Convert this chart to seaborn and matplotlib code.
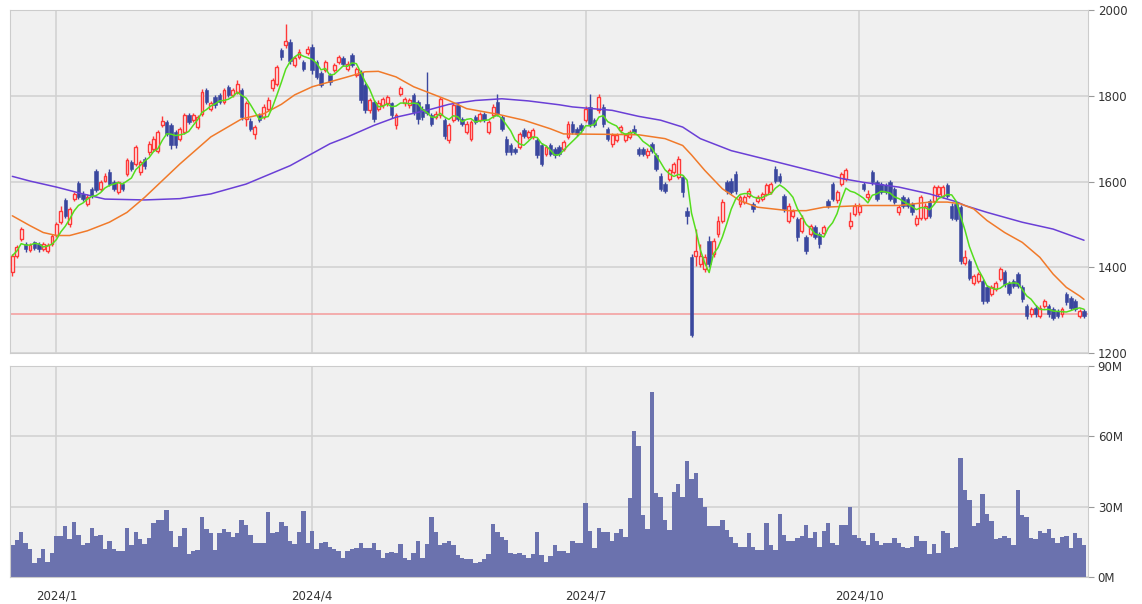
import numpy as np
import pandas as pd
import seaborn as sns
import matplotlib.pyplot as plt

sns.set_style('white')
plt.rcParams['font.family'] = ['DejaVu Sans']

# 일봉 데이터 (2023/12/18 ~ 2024/12/13, 거래일 순서)
open_ = [1388, 1427, 1467, 1455, 1440, 1458, 1455, 1442, 1438, 1454, 1476, 1505, 1558, 1500, 1560, 1596, 1572, 1548, 1583, 1624,
         1583, 1602, 1622, 1598, 1575, 1594, 1618, 1645, 1641, 1622, 1653, 1668, 1676, 1672, 1731, 1739, 1731, 1715, 1700, 1715,
         1754, 1743, 1727, 1758, 1813, 1770, 1797, 1801, 1786, 1821, 1801, 1809, 1813, 1746, 1742, 1711, 1754, 1750, 1770, 1817,
         1828, 1906, 1918, 1926, 1871, 1891, 1879, 1899, 1914, 1879, 1852, 1860, 1848, 1860, 1879, 1887, 1863, 1896, 1848, 1856,
         1825, 1766, 1785, 1770, 1778, 1782, 1782, 1731, 1805, 1782, 1778, 1801, 1785, 1770, 1780, 1754, 1750, 1754, 1743, 1696,
         1743, 1778, 1746, 1715, 1700, 1750, 1743, 1758, 1715, 1754, 1785, 1750, 1700, 1684, 1676, 1680, 1719, 1703, 1703, 1696,
         1684, 1665, 1684, 1676, 1680, 1676, 1704, 1735, 1723, 1731, 1743, 1774, 1743, 1766, 1774, 1723, 1688, 1696, 1719, 1696,
         1704, 1723, 1676, 1676, 1661, 1688, 1661, 1614, 1594, 1606, 1622, 1610, 1610, 1532, 1423, 1427, 1407, 1396, 1462, 1431,
         1477, 1509, 1598, 1602, 1618, 1548, 1552, 1567, 1548, 1555, 1559, 1571, 1575, 1630, 1614, 1567, 1509, 1520, 1513, 1485,
         1470, 1477, 1493, 1477, 1481, 1555, 1594, 1556, 1595, 1606, 1497, 1524, 1528, 1595, 1563, 1622, 1598, 1595, 1591, 1598,
         1583, 1528, 1563, 1559, 1548, 1501, 1516, 1516, 1555, 1555, 1571, 1567, 1591, 1544, 1548, 1540, 1411, 1415, 1364, 1368,
         1368, 1353, 1337, 1349, 1372, 1388, 1364, 1368, 1384, 1353, 1310, 1290, 1306, 1286, 1310, 1310, 1302, 1298, 1290, 1337,
         1329, 1321, 1286, 1298]
high = [1432, 1452, 1494, 1460, 1456, 1462, 1460, 1460, 1456, 1478, 1506, 1544, 1562, 1540, 1575, 1602, 1578, 1570, 1588, 1628,
        1604, 1620, 1628, 1603, 1602, 1598, 1655, 1650, 1686, 1650, 1658, 1694, 1706, 1720, 1752, 1744, 1736, 1720, 1728, 1760,
        1760, 1760, 1755, 1815, 1818, 1788, 1802, 1806, 1818, 1826, 1818, 1836, 1818, 1788, 1748, 1732, 1760, 1780, 1796, 1842,
        1872, 1912, 1967, 1932, 1892, 1908, 1884, 1915, 1920, 1884, 1857, 1884, 1853, 1876, 1896, 1892, 1880, 1900, 1868, 1860,
        1830, 1794, 1790, 1790, 1798, 1802, 1786, 1760, 1822, 1798, 1794, 1806, 1790, 1775, 1855, 1760, 1764, 1798, 1748, 1736,
        1783, 1783, 1750, 1740, 1744, 1755, 1763, 1763, 1744, 1780, 1805, 1755, 1705, 1690, 1681, 1716, 1724, 1720, 1724, 1701,
        1689, 1685, 1689, 1681, 1685, 1697, 1740, 1740, 1728, 1736, 1776, 1805, 1748, 1803, 1780, 1728, 1713, 1713, 1732, 1713,
        1720, 1732, 1681, 1681, 1677, 1693, 1666, 1619, 1599, 1631, 1646, 1660, 1615, 1540, 1430, 1490, 1455, 1430, 1473, 1468,
        1520, 1560, 1604, 1608, 1624, 1568, 1568, 1584, 1553, 1568, 1576, 1596, 1600, 1636, 1620, 1572, 1550, 1537, 1518, 1521,
        1475, 1502, 1498, 1482, 1498, 1560, 1600, 1580, 1623, 1631, 1530, 1549, 1549, 1600, 1580, 1627, 1603, 1600, 1596, 1603,
        1588, 1545, 1568, 1564, 1553, 1521, 1568, 1549, 1560, 1592, 1592, 1592, 1596, 1549, 1553, 1545, 1440, 1420, 1385, 1389,
        1373, 1358, 1358, 1369, 1401, 1393, 1369, 1373, 1389, 1358, 1315, 1307, 1311, 1311, 1326, 1315, 1307, 1303, 1307, 1342,
        1334, 1326, 1303, 1303]
low = [1380, 1422, 1462, 1436, 1435, 1440, 1436, 1438, 1433, 1450, 1470, 1500, 1515, 1495, 1555, 1560, 1555, 1542, 1562, 1575,
       1578, 1598, 1590, 1577, 1570, 1577, 1612, 1625, 1636, 1616, 1630, 1662, 1670, 1666, 1726, 1706, 1675, 1678, 1695, 1710,
       1734, 1738, 1722, 1752, 1780, 1765, 1772, 1780, 1780, 1796, 1796, 1804, 1744, 1730, 1718, 1700, 1738, 1745, 1765, 1812,
       1822, 1884, 1912, 1874, 1866, 1886, 1858, 1894, 1850, 1838, 1820, 1855, 1826, 1855, 1874, 1870, 1858, 1866, 1843, 1784,
       1760, 1760, 1738, 1765, 1772, 1776, 1748, 1722, 1800, 1776, 1772, 1756, 1735, 1744, 1754, 1730, 1745, 1748, 1700, 1690,
       1738, 1740, 1730, 1710, 1695, 1734, 1738, 1738, 1710, 1748, 1752, 1718, 1662, 1662, 1663, 1675, 1702, 1698, 1698, 1655,
       1635, 1660, 1660, 1655, 1660, 1671, 1698, 1710, 1706, 1714, 1738, 1728, 1726, 1760, 1728, 1694, 1680, 1691, 1714, 1691,
       1699, 1710, 1660, 1660, 1655, 1667, 1624, 1577, 1574, 1601, 1617, 1605, 1565, 1500, 1238, 1403, 1400, 1390, 1400, 1425,
       1470, 1503, 1572, 1570, 1572, 1540, 1547, 1562, 1528, 1550, 1554, 1566, 1570, 1597, 1597, 1530, 1504, 1515, 1462, 1480,
       1430, 1472, 1465, 1444, 1476, 1539, 1554, 1551, 1590, 1601, 1490, 1519, 1523, 1578, 1558, 1593, 1554, 1570, 1570, 1554,
       1547, 1523, 1539, 1539, 1523, 1496, 1511, 1511, 1515, 1550, 1566, 1562, 1562, 1510, 1508, 1408, 1406, 1370, 1359, 1363,
       1315, 1316, 1332, 1344, 1367, 1355, 1336, 1352, 1352, 1320, 1280, 1285, 1285, 1281, 1305, 1285, 1277, 1281, 1285, 1313,
       1301, 1297, 1281, 1281]
close = [1427, 1448, 1490, 1442, 1452, 1446, 1442, 1455, 1452, 1474, 1500, 1532, 1520, 1535, 1570, 1564, 1560, 1565, 1567, 1580,
         1598, 1614, 1595, 1582, 1598, 1582, 1649, 1630, 1680, 1645, 1635, 1688, 1700, 1715, 1742, 1711, 1684, 1684, 1723, 1754,
         1739, 1754, 1750, 1809, 1786, 1782, 1778, 1786, 1813, 1801, 1813, 1828, 1750, 1782, 1723, 1727, 1743, 1774, 1790, 1836,
         1867, 1890, 1928, 1880, 1887, 1903, 1863, 1910, 1860, 1844, 1825, 1879, 1832, 1871, 1891, 1875, 1875, 1871, 1863, 1789,
         1766, 1789, 1746, 1782, 1793, 1797, 1754, 1754, 1817, 1793, 1789, 1762, 1745, 1750, 1760, 1735, 1758, 1793, 1707, 1731,
         1778, 1746, 1735, 1735, 1739, 1739, 1758, 1743, 1739, 1774, 1758, 1723, 1668, 1668, 1668, 1711, 1707, 1715, 1719, 1661,
         1641, 1680, 1665, 1661, 1665, 1692, 1735, 1715, 1711, 1719, 1770, 1735, 1731, 1797, 1735, 1700, 1708, 1708, 1727, 1708,
         1715, 1715, 1665, 1665, 1672, 1672, 1630, 1583, 1579, 1626, 1641, 1653, 1575, 1520, 1243, 1438, 1427, 1423, 1407, 1462,
         1509, 1552, 1579, 1575, 1579, 1563, 1563, 1579, 1536, 1563, 1571, 1591, 1594, 1602, 1602, 1536, 1544, 1532, 1470, 1516,
         1438, 1497, 1470, 1454, 1493, 1544, 1559, 1575, 1618, 1626, 1509, 1544, 1544, 1583, 1571, 1598, 1559, 1575, 1575, 1559,
         1552, 1540, 1544, 1544, 1528, 1516, 1563, 1544, 1520, 1587, 1587, 1587, 1567, 1516, 1513, 1415, 1423, 1376, 1380, 1384,
         1321, 1321, 1353, 1364, 1396, 1360, 1341, 1357, 1357, 1325, 1286, 1302, 1290, 1306, 1321, 1290, 1282, 1286, 1302, 1318,
         1306, 1302, 1298, 1286]
# 거래량 (백만 주)
volume = [13.6, 15.9, 19.3, 14.7, 12.1, 5.9, 8.3, 12.1, 6.4, 10.1, 17.3, 17.3, 21.9, 16.1, 23.6, 18.0, 13.6, 14.7, 21.1, 17.6,
          18.0, 12.1, 15.4, 12.1, 10.9, 10.9, 21.1, 13.6, 19.3, 16.1, 14.0, 16.6, 23.0, 24.3, 24.3, 28.7, 19.7, 13.0, 17.3, 21.1,
          9.7, 11.1, 11.6, 25.7, 20.4, 18.6, 11.6, 18.6, 20.4, 19.4, 16.9, 18.6, 24.3, 22.3, 18.0, 14.7, 14.7, 14.7, 27.6, 18.6,
          19.4, 23.6, 21.9, 15.4, 14.0, 19.0, 28.3, 14.7, 19.7, 12.1, 14.7, 15.1, 12.9, 11.9, 10.9, 7.9, 11.1, 11.9, 12.3, 14.7,
          12.3, 12.3, 14.7, 11.6, 7.9, 10.1, 10.7, 10.1, 14.0, 8.3, 7.1, 10.1, 15.4, 8.3, 14.0, 25.7, 19.3, 13.6, 14.4, 15.4,
          13.6, 9.3, 8.3, 7.6, 7.6, 5.9, 6.4, 7.6, 9.7, 22.6, 19.3, 16.9, 15.9, 10.1, 9.7, 10.1, 9.3, 8.3, 9.7, 19.3,
          9.3, 6.4, 9.0, 13.6, 10.9, 10.9, 10.1, 15.4, 14.4, 14.7, 31.6, 19.7, 12.3, 21.1, 19.0, 19.3, 15.4, 18.6, 20.4, 16.9,
          33.6, 62.3, 55.7, 26.4, 20.4, 79.0, 35.9, 34.0, 24.4, 20.0, 36.4, 39.7, 34.0, 49.4, 41.6, 44.3, 33.6, 29.7, 21.9, 21.9,
          21.9, 24.3, 20.0, 16.9, 14.3, 12.9, 12.9, 18.6, 12.9, 11.6, 11.6, 23.0, 13.6, 11.6, 26.9, 18.0, 15.4, 15.4, 16.6, 17.3,
          22.3, 16.6, 19.0, 13.0, 19.7, 23.0, 14.7, 13.6, 22.3, 22.3, 29.7, 18.0, 16.6, 15.4, 13.6, 18.6, 15.4, 13.6, 14.7, 14.7,
          16.6, 14.7, 12.9, 12.3, 12.9, 17.3, 15.4, 15.4, 9.7, 14.0, 10.4, 19.7, 18.6, 12.3, 12.9, 50.7, 37.3, 32.9, 21.9, 23.0,
          35.4, 26.9, 23.7, 16.1, 16.6, 17.3, 16.6, 13.6, 37.3, 26.4, 25.7, 16.6, 16.1, 19.7, 18.6, 20.4, 16.6, 14.3, 16.9, 17.3,
          12.3, 18.6, 16.6, 13.6]

# 25일 / 75일 이동평균
ma25_idx = [0, 4, 7, 10, 13, 17, 22, 26, 30, 34, 38, 45, 52, 57, 61, 64, 68, 76, 80, 83, 87, 91, 95, 99, 103, 110, 116,
            122, 125, 135, 142, 148, 152, 154, 157, 161, 165, 169, 176, 180, 184, 193, 201, 208, 212, 215, 218, 221, 225,
            229, 233, 236, 239, 242, 243]
ma25_val = [1520, 1497, 1481, 1474, 1474, 1485, 1505, 1528, 1563, 1602, 1641, 1704, 1746, 1758, 1780, 1802, 1821, 1844, 1856,
            1857, 1844, 1821, 1805, 1789, 1770, 1757, 1743, 1723, 1711, 1710, 1709, 1700, 1684, 1662, 1626, 1583, 1555, 1540,
            1532, 1532, 1540, 1544, 1544, 1552, 1552, 1548, 1536, 1509, 1481, 1458, 1423, 1384, 1353, 1333, 1325]
ma75_idx = [0, 4, 10, 16, 21, 30, 38, 45, 53, 63, 72, 76, 82, 87, 94, 99, 105, 111, 117, 124, 127, 136, 142, 147, 152, 156,
            163, 172, 184, 188, 193, 201, 208, 214, 216, 221, 229, 236, 243]
ma75_val = [1612, 1601, 1587, 1571, 1559, 1557, 1560, 1571, 1594, 1637, 1688, 1704, 1731, 1750, 1766, 1780, 1789, 1793, 1788,
            1779, 1774, 1766, 1752, 1743, 1727, 1700, 1672, 1649, 1618, 1607, 1598, 1587, 1571, 1553, 1544, 1528, 1505, 1489, 1463]

ref_price = 1290

q_idx = [10, 68, 130, 192]
q_labels = ['2024/1', '2024/4', '2024/7', '2024/10']
m_idx = [29, 48, 89, 110, 152, 173, 214, 234]

df = pd.DataFrame({'i': np.arange(len(close)), 'open': open_, 'high': high, 'low': low,
                   'close': close, 'vol': volume})
df['ma5'] = df['close'].rolling(5, min_periods=1).mean()
up = df['close'] >= df['open']
dn = ~up

fig = plt.figure(figsize=(11.42, 6.04), dpi=100)
ax1 = fig.add_axes([0.0088, 0.4156, 0.9439, 0.5678])
ax2 = fig.add_axes([0.0088, 0.0447, 0.9439, 0.3493])

RED = '#ff3838'
BLUE = '#3a479e'

# 캔들
ax1.vlines(df['i'][up], df['low'][up], df['high'][up], colors=RED, lw=1.0, zorder=3)
ax1.vlines(df['i'][dn], df['low'][dn], df['high'][dn], colors=BLUE, lw=1.0, zorder=3)
lo = df[['open', 'close']].min(axis=1)
hgt = (df['close'] - df['open']).abs()
ax1.bar(df['i'][up], hgt[up], bottom=lo[up], width=0.66, facecolor='#fdeeee', edgecolor=RED, lw=1.0, zorder=4)
ax1.bar(df['i'][dn], hgt[dn], bottom=lo[dn], width=0.8, color=BLUE, lw=0.4, edgecolor=BLUE, zorder=4)

# 이동평균선
sns.lineplot(x=ma75_idx, y=ma75_val, ax=ax1, color='#6a3fd6', lw=1.1, zorder=5)
sns.lineplot(x=ma25_idx, y=ma25_val, ax=ax1, color='#f07a2a', lw=1.1, zorder=5)
sns.lineplot(data=df, x='i', y='ma5', ax=ax1, color='#55dd1e', lw=1.1, zorder=5)
ax1.axhline(ref_price, color='#f59a9a', lw=1.1, zorder=2)

# 거래량
sns.barplot(data=df, x='i', y='vol', ax=ax2, color='#6b72ae', width=1.0, saturation=1,
            errorbar=None, linewidth=0)

for ax in (ax1, ax2):
    ax.set_facecolor('#f0f0f0')
    ax.set_axisbelow(True)
    for s in ax.spines.values():
        s.set_color('#cccccc')
    ax.set_xlim(-0.52, 243.9)
    ax.set_xlabel('')
    ax.set_ylabel('')
    ax.yaxis.tick_right()
    ax.set_xticks(q_idx)
    ax.grid(True, color='#d2d2d2', lw=1.2)
    ax.tick_params(axis='y', length=4, pad=3, colors='#999999', labelcolor='#333333', labelsize=8.5)

ax1.set_ylim(1200, 2000)
ax1.set_yticks([1200, 1400, 1600, 1800, 2000])
ax1.set_xticklabels([])
ax1.tick_params(axis='x', length=0)

ax2.set_ylim(0, 90)
ax2.set_yticks([0, 30, 60, 90])
ax2.set_yticklabels(['0M', '30M', '60M', '90M'])
ax2.set_xticklabels(q_labels)
ax2.set_xticks(m_idx, minor=True)
ax2.tick_params(axis='x', which='major', length=7, pad=2, colors='#aaaaaa', labelcolor='#333333', labelsize=8.5)
ax2.tick_params(axis='x', which='minor', length=4, colors='#aaaaaa')

fig.savefig('out.png', dpi=100, facecolor='white')
